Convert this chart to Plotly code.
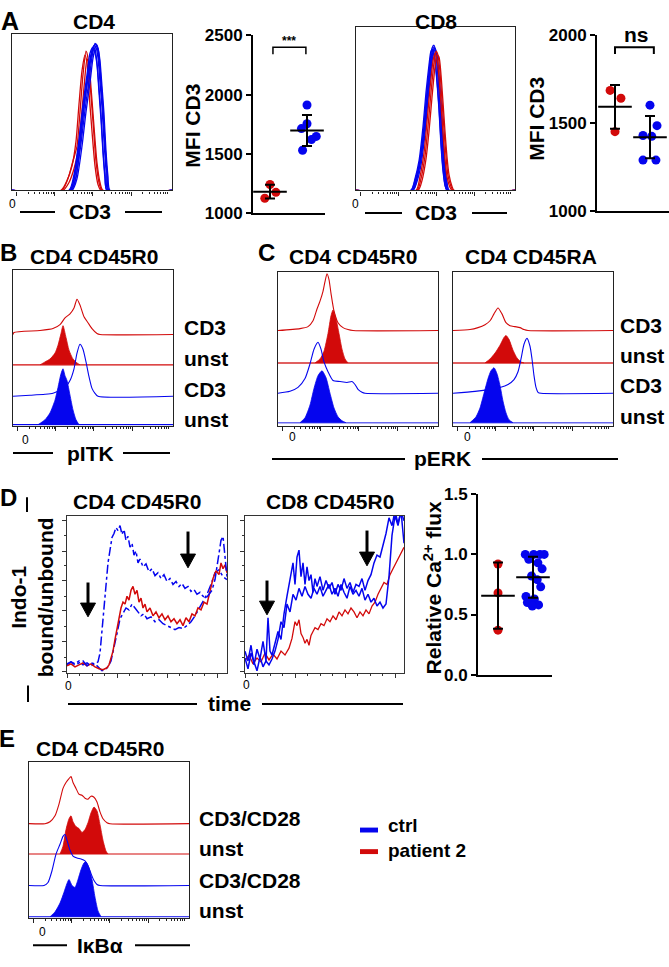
import math
import statistics
import plotly.graph_objects as go

W, H = 669, 967
RED = "#d20a0a"
BLUE = "#0505ee"
AX = "#222222"
FONT = "Liberation Sans, Arial, Helvetica, sans-serif"

# ------------------------------------------------------------------ DATA
# Panel A - CD3 histograms (channel, count), CD4 gate
cd4_red_x = [[50, 56, 61, 65, 68, 71, 74, 76, 78, 81, 84, 87, 90],
             [49, 55, 60, 64, 67, 70, 73, 75, 77, 80, 83, 86, 89],
             [51, 57, 62, 66, 69, 72, 75, 77, 79, 82, 85, 88, 91]]
cd4_red_y = [[0, 12, 30, 45, 80, 118, 142, 135, 110, 70, 30, 8, 0],
             [0, 10, 25, 50, 88, 122, 138, 130, 100, 60, 25, 6, 0],
             [0, 8, 22, 40, 70, 105, 134, 128, 105, 65, 28, 8, 0]]
cd4_blue_x = [[58, 63, 68, 72, 76, 79, 82, 84, 86, 88, 90, 92, 94, 96],
              [59, 64, 69, 73, 77, 80, 83, 85, 87, 89, 91, 93, 95, 97],
              [57, 62, 67, 71, 75, 78, 81, 83, 85, 87, 89, 91, 93, 95],
              [60, 65, 70, 74, 78, 81, 84, 86, 88, 90, 92, 94, 96, 98],
              [58, 63, 68, 72, 76, 79, 81, 83, 85, 87, 89, 91, 93, 95],
              [59, 64, 68, 72, 76, 80, 83, 85, 87, 89, 91, 93, 95, 97]]
cd4_blue_y = [[0, 15, 50, 85, 115, 138, 148, 146, 135, 110, 85, 50, 20, 0],
              [0, 14, 48, 82, 112, 136, 150, 147, 132, 108, 80, 45, 18, 0],
              [0, 16, 52, 88, 118, 140, 146, 144, 130, 105, 78, 42, 16, 0],
              [0, 12, 45, 80, 110, 135, 147, 145, 132, 106, 78, 40, 14, 0],
              [0, 18, 55, 90, 120, 138, 144, 140, 128, 100, 72, 38, 12, 0],
              [0, 13, 46, 84, 116, 140, 149, 148, 138, 112, 84, 48, 18, 0]]
# CD8 gate
cd8_blue_x = [[56, 60, 64, 68, 71, 74, 76, 78, 80, 82, 84, 86, 88, 90, 92],
              [55, 59, 63, 67, 70, 73, 75, 77, 79, 81, 83, 85, 87, 89, 91],
              [57, 61, 65, 69, 72, 75, 77, 79, 81, 83, 85, 87, 89, 91, 93],
              [56, 60, 64, 68, 71, 74, 76, 78, 80, 82, 84, 86, 88, 90, 92],
              [55, 59, 63, 67, 70, 73, 75, 77, 79, 81, 83, 85, 87, 89, 91],
              [57, 61, 65, 69, 72, 75, 77, 79, 81, 83, 85, 87, 89, 91, 93]]
cd8_blue_y = [[0, 10, 28, 60, 95, 125, 140, 146, 138, 118, 90, 55, 25, 8, 0],
              [0, 12, 30, 65, 100, 128, 142, 144, 134, 112, 85, 50, 22, 6, 0],
              [0, 9, 26, 58, 92, 122, 138, 143, 136, 115, 88, 52, 24, 7, 0],
              [0, 11, 30, 62, 98, 130, 145, 148, 140, 116, 86, 50, 20, 6, 0],
              [0, 10, 26, 56, 90, 120, 136, 140, 132, 110, 82, 46, 20, 5, 0],
              [0, 12, 32, 64, 98, 128, 141, 145, 138, 117, 90, 54, 25, 8, 0]]
cd8_red_x = [[61, 65, 69, 72, 75, 78, 80, 82, 84, 86, 88, 90, 92, 95, 97],
             [60, 64, 68, 71, 74, 77, 79, 81, 83, 85, 87, 89, 91, 94, 96],
             [62, 66, 70, 73, 76, 79, 81, 83, 85, 87, 89, 91, 93, 96, 98]]
cd8_red_y = [[0, 12, 35, 65, 100, 130, 142, 138, 120, 92, 62, 35, 15, 4, 0],
             [0, 14, 38, 70, 104, 132, 140, 134, 115, 88, 58, 32, 14, 3, 0],
             [0, 10, 32, 60, 95, 126, 138, 136, 118, 90, 60, 34, 16, 4, 0]]

# MFI CD3 dot plots
mfi_groups = ["patient 2", "ctrl"]
mfi_cd4_patient = [1240, 1174, 1124]
mfi_cd4_ctrl = [1912, 1754, 1713, 1647, 1620, 1530]
mfi_cd8_patient = [1687, 1642, 1452]
mfi_cd8_ctrl = [1603, 1486, 1430, 1425, 1290, 1290]
mfi_cd4_ticks = [1000, 1500, 2000, 2500]
mfi_cd8_ticks = [1000, 1500, 2000]

# Panel B - pITK, CD4 CD45R0 (channel, count)
b_red_cd3_x = [1, 27, 40, 47, 52, 57, 61, 64, 67, 71, 75, 79, 84, 87]
b_red_cd3_y = [2, 4, 6, 10, 17, 21, 27, 36, 30, 18, 12, 6, 1, 0]
b_red_unst_x = [27, 32, 37, 42, 45, 48, 50, 53, 56, 60, 64, 67]
b_red_unst_y = [0, 3, 6, 12, 20, 32, 40, 28, 15, 6, 2, 0]
b_blue_cd3_x = [17, 32, 40, 47, 53, 57, 61, 64, 67, 70, 73, 76, 79, 82, 85]
b_blue_cd3_y = [1, 2, 3, 6, 10, 16, 28, 44, 53, 48, 35, 20, 8, 3, 0]
b_blue_unst_x = [25, 32, 37, 42, 45, 48, 50, 52, 54, 57, 60, 63, 66]
b_blue_unst_y = [0, 5, 12, 25, 38, 52, 57, 50, 45, 30, 15, 5, 0]

# Panel C - pERK, CD4 CD45R0
c1_red_cd3_x = [22, 30, 35, 39, 42, 45, 47, 49, 51, 53, 56, 60, 65, 70, 75]
c1_red_cd3_y = [2, 4, 10, 22, 30, 40, 50, 58, 52, 38, 20, 8, 3, 1, 0]
c1_red_unst_x = [37, 42, 46, 50, 53, 55, 58, 61, 64, 67, 70]
c1_red_unst_y = [0, 4, 12, 30, 48, 54, 45, 30, 14, 4, 0]
c1_blue_cd3_x = [12, 20, 27, 32, 36, 40, 43, 46, 50, 55, 62, 69, 74, 77, 80, 84, 87]
c1_blue_cd3_y = [2, 6, 15, 30, 45, 52, 45, 32, 22, 13, 12, 11, 12, 9, 4, 1, 0]
c1_blue_unst_x = [22, 27, 32, 36, 40, 44, 48, 52, 56, 60, 64, 68]
c1_blue_unst_y = [0, 5, 18, 35, 48, 53, 46, 30, 15, 6, 2, 0]
# Panel C - pERK, CD4 CD45RA
c2_red_cd3_x = [17, 25, 32, 37, 41, 45, 49, 53, 57, 62, 67, 71, 75]
c2_red_cd3_y = [1, 3, 6, 10, 17, 23, 17, 8, 5, 4, 3, 1, 0]
c2_red_unst_x = [32, 37, 42, 47, 51, 53, 56, 60, 64, 68, 71]
c2_red_unst_y = [0, 4, 10, 18, 26, 28, 24, 13, 5, 1, 0]
c2_blue_cd3_x = [22, 37, 47, 55, 61, 65, 68, 71, 74, 77, 79, 81, 83, 85, 88]
c2_blue_cd3_y = [2, 4, 6, 9, 14, 22, 35, 50, 56, 48, 35, 18, 6, 1, 0]
c2_blue_unst_x = [17, 23, 27, 31, 35, 38, 41, 44, 47, 50, 53, 56, 60]
c2_blue_unst_y = [0, 6, 15, 30, 45, 53, 56, 50, 38, 22, 10, 3, 0]

# Panel D - Indo-1 bound/unbound over time
d1_ctrl_a_t = [0, 4, 8, 12, 16, 20, 24, 28, 31, 33, 35, 37, 39, 41, 43, 45, 47, 49, 51, 53, 55, 57,
               59, 61, 63, 65, 67, 69, 71, 73, 76, 79, 82, 85, 88, 91, 94, 97, 100, 103, 106, 109,
               112, 115, 118, 121, 124, 127, 130, 133, 136, 139, 142, 145, 148, 150, 152, 154, 156, 158, 160]
d1_ctrl_a_v = [9, 11, 8, 10, 12, 7, 10, 9, 11, 20, 45, 70, 95, 112, 125, 138, 142, 148, 145, 150, 141, 146,
               135, 139, 128, 132, 120, 124, 112, 116, 108, 111, 103, 106, 99, 102, 96, 100, 93, 96, 90, 93,
               88, 91, 86, 88, 83, 85, 80, 82, 78, 76, 80, 84, 95, 108, 122, 135, 139, 118, 98]
d1_ctrl_b_t = [0, 4, 8, 12, 16, 20, 24, 28, 32, 35, 38, 41, 44, 47, 50, 53, 56, 59, 62, 65, 68, 71, 74,
               77, 80, 84, 88, 92, 96, 100, 104, 108, 112, 116, 120, 124, 128, 132, 136, 140, 144, 148,
               152, 156, 160]
d1_ctrl_b_v = [8, 11, 9, 12, 8, 10, 7, 9, 5, 2, 3, 6, 12, 25, 40, 55, 60, 66, 64, 70, 66, 62, 58,
               60, 55, 57, 52, 54, 50, 48, 46, 44, 46, 45, 48, 52, 58, 65, 72, 80, 90, 102,
               105, 98, 95]
d1_pat_t = [0, 4, 8, 12, 16, 20, 24, 28, 32, 36, 40, 42, 44, 46, 48, 50, 52, 54, 56, 58, 60, 62, 64,
            66, 68, 70, 72, 74, 76, 78, 80, 83, 86, 89, 92, 95, 98, 101, 104, 107, 110, 113, 116, 119,
            122, 125, 128, 131, 134, 137, 140, 143, 146, 149, 152, 154, 156, 158, 160]
d1_pat_v = [7, 9, 6, 8, 10, 7, 9, 6, 4, 3, 5, 8, 14, 22, 34, 46, 58, 66, 72, 70, 78, 74, 84,
            88, 80, 84, 72, 76, 66, 70, 62, 66, 58, 62, 56, 60, 54, 58, 52, 55, 50, 54, 48, 56,
            52, 60, 58, 66, 64, 72, 70, 84, 96, 104, 100, 112, 106, 110, 102]
d2_ctrl_a_t = [0, 3, 6, 9, 12, 15, 18, 21, 23, 25, 27, 30, 33, 36, 39, 42, 45, 48, 50, 52, 54, 56, 58,
               60, 62, 64, 66, 68, 70, 72, 75, 78, 81, 84, 87, 90, 93, 96, 99, 102, 105, 108, 111, 114,
               117, 120, 123, 126, 129, 132, 135, 138, 141, 144, 147, 150, 153, 156, 159]
d2_ctrl_a_v = [22, 12, 28, 8, 24, 14, 32, 12, 56, 22, 18, 30, 42, 34, 60, 78, 95, 112, 90, 118, 125, 98, 112,
               90, 108, 94, 100, 82, 96, 88, 98, 84, 94, 86, 92, 80, 90, 84, 96, 86, 92, 82, 90, 88,
               96, 84, 94, 100, 112, 120, 118, 130, 142, 158, 150, 165, 152, 165, 155]
d2_ctrl_b_t = [0, 3, 6, 9, 12, 15, 18, 21, 24, 27, 30, 33, 36, 39, 42, 45, 48, 51, 54, 57, 60, 63, 66,
               69, 72, 75, 78, 81, 84, 87, 90, 93, 96, 99, 102, 105, 108, 111, 114, 117, 120, 123, 126,
               129, 132, 135, 138, 141, 144, 147, 150, 153, 156, 159]
d2_ctrl_b_v = [15, 4, 20, 10, 2, 16, 6, 12, 8, 14, 22, 34, 52, 46, 70, 62, 80, 74, 86, 78, 88, 80, 76,
               86, 80, 88, 78, 84, 90, 80, 86, 78, 90, 82, 76, 88, 80, 84, 78, 86, 74, 80, 72,
               76, 68, 72, 66, 70, 98, 140, 160, 150, 165, 132]
d2_pat_t = [0, 4, 8, 12, 16, 20, 24, 28, 32, 36, 40, 44, 47, 50, 52, 54, 56, 58, 60, 62, 64, 66, 68,
            70, 73, 76, 79, 82, 85, 88, 91, 94, 97, 100, 103, 106, 109, 112, 115, 118, 121, 124, 127,
            130, 133, 136, 139, 142, 145, 148, 151, 154, 157, 159]
d2_pat_v = [12, 18, 9, 15, 11, 20, 13, 19, 14, 22, 18, 25, 35, 52, 48, 54, 40, 36, 30, 34, 28, 38, 42,
            46, 44, 50, 48, 55, 52, 58, 54, 62, 58, 64, 60, 66, 62, 56, 62, 58, 64, 60, 68,
            72, 80, 86, 92, 90, 100, 106, 112, 118, 124, 128]

# Relative Ca2+ flux
ca_patient = [0.92, 0.68, 0.37]
ca_ctrl = [1.0, 1.0, 1.0, 1.0, 0.96, 0.93, 0.88, 0.82, 0.79, 0.73, 0.65, 0.63, 0.60, 0.58, 0.57]
ca_ticks = [0.0, 0.5, 1.0, 1.5]

# Panel E - IkBa, CD4 CD45R0
e_red_cd3_x = [16, 21, 26, 30, 34, 37, 40, 42, 44, 47, 50, 53, 56, 59, 62, 65, 68, 71, 74, 78, 81]
e_red_cd3_y = [0, 2, 8, 20, 36, 42, 46, 48, 42, 36, 30, 29, 26, 25, 28, 27, 22, 12, 5, 1, 0]
e_red_unst_x = [31, 34, 37, 40, 42, 44, 47, 50, 53, 56, 59, 62, 65, 68, 71, 74, 77, 79]
e_red_unst_y = [0, 8, 25, 36, 39, 33, 28, 26, 22, 25, 32, 42, 48, 44, 30, 14, 3, 0]
e_blue_cd3_x = [15, 19, 23, 27, 31, 34, 36, 38, 41, 44, 48, 52, 56, 59, 62, 65, 68, 71]
e_blue_cd3_y = [0, 3, 15, 32, 42, 50, 52, 46, 36, 30, 28, 27, 25, 20, 12, 5, 1, 0]
e_blue_unst_x = [21, 26, 31, 35, 38, 40, 43, 46, 49, 52, 55, 57, 60, 63, 66, 69, 72]
e_blue_unst_y = [0, 5, 14, 25, 34, 38, 32, 30, 38, 48, 55, 56, 50, 38, 20, 6, 0]

# ------------------------------------------------------------------ HELPERS
fig = go.Figure()
layout = {}
annotations = []
shapes = []


def X(p):
    return p / W


def Y(p):
    return 1 - p / H


def names(n):
    if n == 1:
        return "xaxis", "yaxis", "x", "y"
    return f"xaxis{n}", f"yaxis{n}", f"x{n}", f"y{n}"


def log_ticks(w):
    d = w / 4.2
    starts = [w * 0.03 + i * d for i in range(4)]
    minor = []
    for s in starts:
        for k in range(2, 10):
            v = s + d * math.log10(k)
            if v < w - 1:
                minor.append(v)
    return starts, minor


def hist_axes(n, l, r, t, b):
    xa, ya, xr, yr = names(n)
    w, h = r - l, b - t
    major, minor = log_ticks(w)
    layout[xa] = dict(domain=[X(l), X(r)], range=[0, w], anchor=yr, showline=True, mirror=True,
                      linecolor=AX, linewidth=1.3, showgrid=False, zeroline=False,
                      ticks="outside", ticklen=4, tickwidth=1, tickcolor=AX, tickvals=major,
                      showticklabels=False, fixedrange=True,
                      minor=dict(tickvals=minor, ticks="outside", ticklen=2, tickcolor=AX, tickwidth=1))
    layout[ya] = dict(domain=[Y(b), Y(t)], range=[0, h], anchor=xr, showline=True, mirror=True,
                      linecolor=AX, linewidth=1.3, showgrid=False, zeroline=False,
                      showticklabels=False, ticks="", fixedrange=True)
    return xr, yr, w


def outline(refs, xs, hs, base, w, color, width=1.1):
    xr, yr = refs
    xx = list(xs)
    yy = [base + v for v in hs]
    if xx[0] > 0:
        xx = [0] + xx
        yy = [base] + yy
    xx = xx + [w]
    yy = yy + [base]
    fig.add_trace(go.Scatter(x=xx, y=yy, mode="lines", xaxis=xr, yaxis=yr, hoverinfo="skip",
                             line=dict(color=color, width=width, shape="spline", smoothing=0.6)))


def filled(refs, xs, hs, base, w, color, base_color=None, base_width=1.1):
    xr, yr = refs
    fig.add_trace(go.Scatter(x=[0, w], y=[base, base], mode="lines", xaxis=xr, yaxis=yr,
                             hoverinfo="skip", line=dict(color=base_color or color, width=base_width)))
    fig.add_trace(go.Scatter(x=list(xs), y=[base + v for v in hs], mode="lines", fill="toself",
                             fillcolor=color, xaxis=xr, yaxis=yr, hoverinfo="skip",
                             line=dict(color=color, width=0.8, shape="spline", smoothing=0.6)))


def dot_axes(n, l, r, t, b, xrange, yrange, ticks, ticktext):
    xa, ya, xr, yr = names(n)
    layout[xa] = dict(domain=[X(l), X(r)], range=xrange, anchor=yr, showline=True, linecolor="black",
                      linewidth=2, showgrid=False, zeroline=False, showticklabels=False, ticks="",
                      fixedrange=True)
    layout[ya] = dict(domain=[Y(b), Y(t)], range=yrange, anchor=xr, showline=True, linecolor="black",
                      linewidth=2, showgrid=False, zeroline=False, ticks="outside", ticklen=5,
                      tickwidth=2, tickcolor="black", tickvals=ticks, ticktext=ticktext,
                      tickfont=dict(family=FONT, size=17, color="black", weight="bold"),
                      fixedrange=True)
    return xr, yr


def dots(refs, vals, cat, jitter, color):
    xr, yr = refs
    fig.add_trace(go.Scatter(x=[cat + j for j in jitter], y=vals, mode="markers", xaxis=xr, yaxis=yr,
                             marker=dict(color=color, size=9, line=dict(width=0)), cliponaxis=False,
                             hoverinfo="skip"))
    m = statistics.mean(vals)
    sd = statistics.stdev(vals)
    fig.add_trace(go.Scatter(x=[cat], y=[m], mode="markers", xaxis=xr, yaxis=yr, cliponaxis=False,
                             marker=dict(symbol="line-ew", size=24, color="black",
                                         line=dict(color="black", width=2)),
                             error_y=dict(type="data", array=[sd], width=5, thickness=2, color="black"),
                             hoverinfo="skip"))


def text(x, y, s, size=21, bold=True, anchor="center", angle=0, color="black"):
    annotations.append(dict(x=X(x), y=Y(y), xref="paper", yref="paper", text=(f"<b>{s}</b>" if bold else s),
                            showarrow=False, xanchor=anchor, yanchor="middle", textangle=angle,
                            font=dict(family=FONT, size=size, color=color)))


def hline(x0, x1, y, width=2, color="black"):
    shapes.append(dict(type="line", xref="paper", yref="paper", x0=X(x0), x1=X(x1), y0=Y(y), y1=Y(y),
                       line=dict(color=color, width=width)))


def vline(x, y0, y1, width=2):
    shapes.append(dict(type="line", xref="paper", yref="paper", x0=X(x), x1=X(x), y0=Y(y0), y1=Y(y1),
                       line=dict(color="black", width=width)))


def arrow(x, ytip, ytail):
    head = 14
    vline(x, ytail, ytip - head + 2, width=3)
    path = (f"M {X(x - 7.5)} {Y(ytip - head)} L {X(x + 7.5)} {Y(ytip - head)} "
            f"L {X(x)} {Y(ytip)} Z")
    shapes.append(dict(type="path", xref="paper", yref="paper", path=path, fillcolor="black",
                       line=dict(color="black", width=1)))


# ------------------------------------------------------------------ PANEL A
refs = hist_axes(1, 12, 172, 25, 185)
for xs, ys in zip(cd4_red_x, cd4_red_y):
    outline(refs[:2], xs, ys, 0, refs[2], RED, 1.3)
for xs, ys in zip(cd4_blue_x, cd4_blue_y):
    outline(refs[:2], xs, ys, 0, refs[2], BLUE, 1.3)

refs = hist_axes(3, 356, 515, 18, 185)
for xs, ys in zip(cd8_blue_x, cd8_blue_y):
    outline(refs[:2], xs, ys, 0, refs[2], BLUE, 1.3)
for xs, ys in zip(cd8_red_x, cd8_red_y):
    outline(refs[:2], xs, ys, 0, refs[2], RED, 1.3)

r2 = dot_axes(2, 253, 325, 27, 208, [-0.459, 1.486], [1000, 2500], mfi_cd4_ticks,
              [str(v) for v in mfi_cd4_ticks])
dots(r2, mfi_cd4_patient, 0, [0.0, 0.16, -0.14], RED)
dots(r2, mfi_cd4_ctrl, 1, [0.0, 0.0, -0.15, 0.25, 0.12, -0.12], BLUE)
shapes.append(dict(type="path", xref="x2", yref="y2", path="M 0.08 2342 L 0.08 2400 L 0.97 2400 L 0.97 2342",
                   line=dict(color="black", width=1.5)))
text(289, 33, "***", size=12)

r4 = dot_axes(4, 597, 669, 27, 206, [-0.514, 1.543], [1000, 2000], mfi_cd8_ticks,
              [str(v) for v in mfi_cd8_ticks])
dots(r4, mfi_cd8_patient, 0, [-0.14, 0.17, 0.0], RED)
dots(r4, mfi_cd8_ctrl, 1, [0.0, 0.2, -0.2, 0.05, -0.2, 0.17], BLUE)
shapes.append(dict(type="path", xref="x4", yref="y4", path="M 0.0 1894 L 0.0 1933 L 1.11 1933 L 1.11 1894",
                   line=dict(color="black", width=2)))
text(636, 26, "ns", size=21)

text(10, 12, "A", size=25)
text(94, 13, "CD4")
text(436, 13, "CD8")
text(193, 119, "MFI CD3", angle=-90)
text(537, 112, "MFI CD3", angle=-90)
text(13, 199, "0", size=12, bold=False)
hline(20, 55, 207)
text(90, 207, "CD3")
hline(125, 162, 207)
text(355, 199, "0", size=12, bold=False)
hline(365, 402, 208)
text(436, 208, "CD3")
hline(472, 507, 208)

# ------------------------------------------------------------------ PANEL B
refs = hist_axes(5, 13, 173, 266, 425)
rr, w = refs[:2], refs[2]
outline(rr, b_red_cd3_x, b_red_cd3_y, 93, w, RED)
filled(rr, b_red_unst_x, b_red_unst_y, 62, w, RED)
outline(rr, b_blue_cd3_x, b_blue_cd3_y, 30, w, BLUE)
filled(rr, b_blue_unst_x, b_blue_unst_y, 1, w, BLUE)
text(8, 248, "B", size=24)
text(94, 252, "CD4 CD45R0")
for lab, yy in zip(["CD3", "unst", "CD3", "unst"], [325, 356, 388, 419]):
    text(182, yy, lab, anchor="left")
text(26, 440, "0", size=12, bold=False)
hline(13, 53, 453)
text(90, 453, "pITK")
hline(123, 170, 453)

# ------------------------------------------------------------------ PANEL C
refs = hist_axes(6, 278, 438, 268, 425)
rr, w = refs[:2], refs[2]
outline(rr, c1_red_cd3_x, c1_red_cd3_y, 97, w, RED)
filled(rr, c1_red_unst_x, c1_red_unst_y, 64, w, RED, "#e06060", 2)
outline(rr, c1_blue_cd3_x, c1_blue_cd3_y, 33, w, BLUE)
filled(rr, c1_blue_unst_x, c1_blue_unst_y, 3, w, BLUE, "#6a6af0", 1.5)

refs = hist_axes(7, 453, 613, 268, 425)
rr, w = refs[:2], refs[2]
outline(rr, c2_red_cd3_x, c2_red_cd3_y, 97, w, RED)
filled(rr, c2_red_unst_x, c2_red_unst_y, 64, w, RED, "#e06060", 2)
outline(rr, c2_blue_cd3_x, c2_blue_cd3_y, 33, w, BLUE)
filled(rr, c2_blue_unst_x, c2_blue_unst_y, 3, w, BLUE, "#6a6af0", 1.5)

text(266, 248, "C", size=24)
text(353, 252, "CD4 CD45R0")
text(531, 252, "CD4 CD45RA")
for lab, yy in zip(["CD3", "unst", "CD3", "unst"], [323, 353, 384, 416]):
    text(618, yy, lab, anchor="left")
text(292, 437, "0", size=12, bold=False)
text(467, 437, "0", size=12, bold=False)
hline(272, 405, 459)
text(443, 458, "pERK")
hline(482, 618, 459)

# ------------------------------------------------------------------ PANEL D
def d_axes(n, l, r, t, b):
    xa, ya, xr, yr = names(n)
    w, h = r - l, b - t
    layout[xa] = dict(domain=[X(l), X(r)], range=[0, w], anchor=yr, showline=True, mirror=True,
                      linecolor="#333333", linewidth=1.3, showgrid=False, zeroline=False,
                      ticks="outside", ticklen=4, tickcolor="#333333", tickvals=[0, 50, 100, 150],
                      showticklabels=False, fixedrange=True,
                      minor=dict(tickvals=[12.5, 25, 37.5, 62.5, 75, 87.5, 112.5, 125, 137.5],
                                 ticks="outside", ticklen=2, tickcolor="#333333"))
    layout[ya] = dict(domain=[Y(b), Y(t)], range=[0, h], anchor=xr, showline=True, mirror=True,
                      linecolor="#333333", linewidth=1.3, showgrid=False, zeroline=False,
                      ticks="outside", ticklen=4, tickcolor="#333333", tickvals=[1, 32, 63, 94, 124, 155],
                      showticklabels=False, fixedrange=True,
                      minor=dict(tickvals=[16, 47, 78, 109, 140], ticks="outside", ticklen=2,
                                 tickcolor="#333333"))
    return xr, yr


rr = d_axes(8, 67, 227, 517, 677)
fig.add_trace(go.Scatter(x=d1_ctrl_b_t, y=d1_ctrl_b_v, mode="lines", xaxis=rr[0], yaxis=rr[1],
                         line=dict(color=BLUE, width=1.5, dash="dashdot"), hoverinfo="skip"))
fig.add_trace(go.Scatter(x=d1_pat_t, y=d1_pat_v, mode="lines", xaxis=rr[0], yaxis=rr[1],
                         line=dict(color=RED, width=1.5), hoverinfo="skip"))
fig.add_trace(go.Scatter(x=d1_ctrl_a_t, y=d1_ctrl_a_v, mode="lines", xaxis=rr[0], yaxis=rr[1],
                         line=dict(color=BLUE, width=1.5, dash="dashdot"), hoverinfo="skip"))

rr = d_axes(9, 245, 404, 517, 677)
fig.add_trace(go.Scatter(x=d2_pat_t, y=d2_pat_v, mode="lines", xaxis=rr[0], yaxis=rr[1],
                         line=dict(color=RED, width=1.3), hoverinfo="skip"))
fig.add_trace(go.Scatter(x=d2_ctrl_b_t, y=d2_ctrl_b_v, mode="lines", xaxis=rr[0], yaxis=rr[1],
                         line=dict(color=BLUE, width=1.5), hoverinfo="skip"))
fig.add_trace(go.Scatter(x=d2_ctrl_a_t, y=d2_ctrl_a_v, mode="lines", xaxis=rr[0], yaxis=rr[1],
                         line=dict(color=BLUE, width=1.5), hoverinfo="skip"))

arrow(88, 620, 585)
arrow(188, 570, 533)
arrow(267, 618, 583)
arrow(367, 568, 532)

r10 = dot_axes(10, 478, 552, 495, 679, [-0.571, 1.543], [0, 1.5], ca_ticks,
               [f"{v:.1f}" for v in ca_ticks])
dots(r10, ca_patient, 0, [0.0, 0.0, 0.0], RED)
dots(r10, ca_ctrl, 1, [-0.22, 0.02, 0.2, 0.32, -0.12, 0.14, 0.26, -0.04, 0.12, 0.22, -0.2, 0.04, -0.16, 0.16, -0.02], BLUE)

text(8, 498, "D", size=24)
vline(27, 498, 513)
vline(28, 690, 707)
text(137, 502, "CD4 CD45R0")
text(330, 502, "CD8 CD45R0")
text(32, 600, "Indo-1<br>bound/unbound", angle=-90)
text(433, 591, "Relative Ca<sup>2+</sup> flux", size=21, angle=-90)
text(68, 691, "0", size=12, bold=False)
text(246, 690, "0", size=12, bold=False)
hline(68, 197, 709)
text(230, 708, "time")
hline(262, 403, 709)

# ------------------------------------------------------------------ PANEL E
refs = hist_axes(11, 29, 189, 768, 927)
rr, w = refs[:2], refs[2]
outline(rr, e_red_cd3_x, e_red_cd3_y, 96, w, RED)
filled(rr, e_red_unst_x, e_red_unst_y, 65, w, RED)
outline(rr, e_blue_cd3_x, e_blue_cd3_y, 33, w, BLUE)
filled(rr, e_blue_unst_x, e_blue_unst_y, 1, w, BLUE)
text(7, 744, "E", size=24)
text(100, 754, "CD4 CD45R0")
for lab, yy in zip(["CD3/CD28", "unst", "CD3/CD28", "unst"], [826, 856, 889, 920]):
    text(197, yy, lab, anchor="left")
text(42, 942, "0", size=12, bold=False)
hline(33, 67, 955)
text(100, 955, "IκBα")
hline(135, 190, 955)

# legend
shapes.append(dict(type="rect", xref="paper", yref="paper", x0=X(360), x1=X(378), y0=Y(840), y1=Y(835),
                   fillcolor=BLUE, line=dict(width=0)))
shapes.append(dict(type="rect", xref="paper", yref="paper", x0=X(360), x1=X(378), y0=Y(862), y1=Y(857),
                   fillcolor=RED, line=dict(width=0)))
text(386, 833, "ctrl", size=19, anchor="left")
text(386, 858, "patient 2", size=19, anchor="left")

fig.update_layout(width=W, height=H, margin=dict(l=0, r=0, t=0, b=0), showlegend=False,
                  paper_bgcolor="white", plot_bgcolor="white", font=dict(family=FONT),
                  annotations=annotations, shapes=shapes, **layout)
fig.write_html("out.html", config={"displayModeBar": False},
               post_script="document.body.style.margin='0px';document.body.style.overflow='hidden';")
